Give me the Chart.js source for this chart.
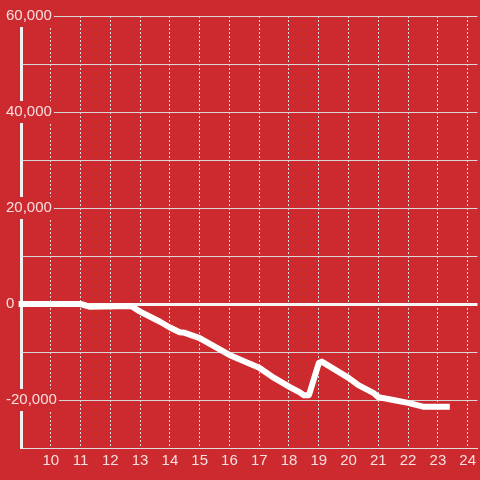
<!DOCTYPE html>
<html>
<head>
<meta charset="utf-8">
<script src="https://cdn.jsdelivr.net/npm/chart.js@4"></script>
<style>
  html, body { margin: 0; padding: 0; background: #cc2a2e; }
  #wrap { width: 480px; height: 480px; }
</style>
</head>
<body>
<div id="wrap"><canvas id="lineChart"></canvas></div>
<script>
// hour of day and running value
const hours = [8.92, 11.0, 11.3, 12.7, 13.0, 13.67, 14.0, 14.33, 14.5, 15.0, 16.0, 17.0, 17.5, 18.0, 18.33, 18.5, 18.67, 19.0, 19.1, 20.0, 20.33, 20.83, 21.0, 21.5, 22.0, 22.5, 23.4];
const values = [0, 0, -550, -400, -1600, -3700, -4900, -5900, -6000, -7100, -10600, -13300, -15400, -17200, -18300, -19000, -19000, -12300, -12000, -15400, -16900, -18500, -19400, -20000, -20600, -21400, -21400];
const yTicks = [-20000, 0, 20000, 40000, 60000];

const points = hours.map((h, i) => ({ x: h, y: values[i] }));
const labelColor = 'rgba(255,255,255,0.85)';

const ctx = document.getElementById('lineChart').getContext('2d');

new Chart(ctx, {
  type: 'line',
  data: {
    datasets: [{
      data: points,
      borderColor: '#ffffff',
      borderWidth: 6,
      borderJoinStyle: 'round',
      pointRadius: 0,
      tension: 0,
      clip: false
    }]
  },
  options: {
    responsive: true,
    maintainAspectRatio: false,
    animation: false,
    layout: { padding: { top: 16, right: 0, left: 1, bottom: 0 } },
    plugins: {
      legend: { display: false },
      tooltip: { enabled: false }
    },
    scales: {
      x: {
        type: 'linear',
        min: 9,
        max: 24.33,
        afterFit: (scale) => { scale.height = 32; },
        // border.dash is what v4 uses for the grid lines too
        border: { display: true, color: '#dddddd', width: 1, dash: [2, 2] },
        grid: {
          color: '#dddddd',
          lineWidth: 1,
          drawTicks: false
        },
        ticks: {
          stepSize: 1,
          includeBounds: false,
          autoSkip: false,
          maxRotation: 0,
          padding: 4,
          color: labelColor,
          font: { family: 'Liberation Sans', size: 15 },
          callback: (v) => (v >= 10 ? String(v) : '')
        }
      },
      y: {
        min: -30000,
        max: 60000,
        afterFit: (scale) => { scale.width = 20; },
        border: { display: true, color: '#f0f0f0', width: 3 },
        grid: {
          drawTicks: false,
          color: (c) => (c.tick && c.tick.value === 0 ? '#f5f5f5' : '#d6d6d6'),
          lineWidth: (c) => (c.tick && c.tick.value === 0 ? 3 : 1)
        },
        ticks: {
          stepSize: 10000,
          mirror: true,
          padding: -15,
          color: labelColor,
          showLabelBackdrop: true,
          backdropColor: '#cc2a2e',
          backdropPadding: 2,
          font: { family: 'Liberation Sans', size: 15 },
          callback: (v) => (yTicks.includes(v) ? v.toLocaleString('en-US') : '')
        }
      }
    }
  }
});
</script>
</body>
</html>
